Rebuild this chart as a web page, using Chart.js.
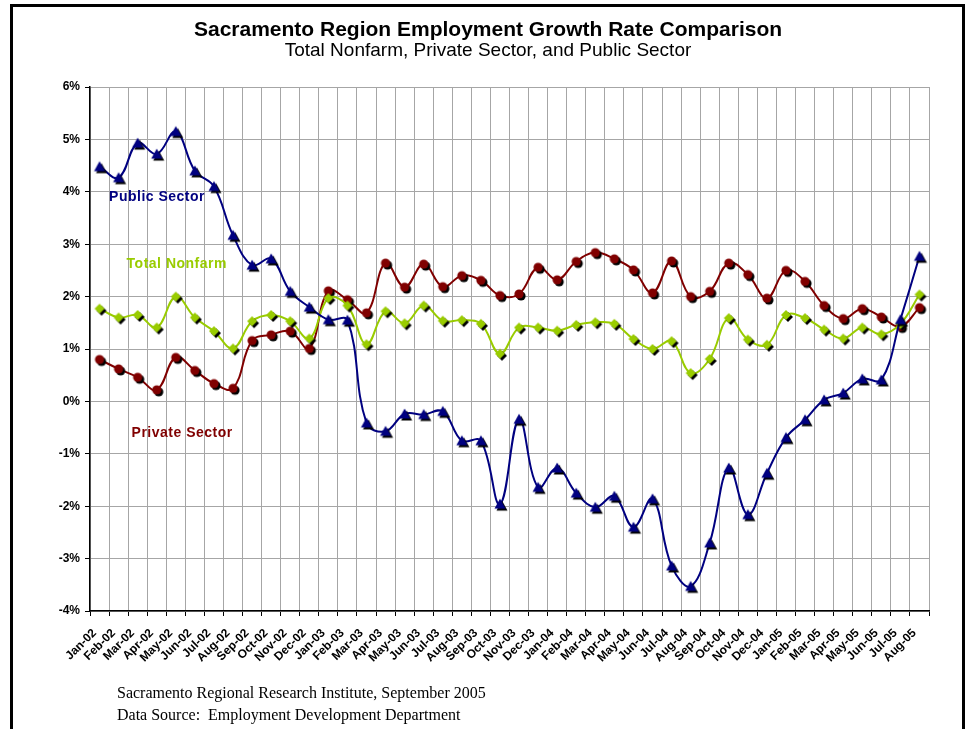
<!DOCTYPE html>
<html>
<head>
<meta charset="utf-8">
<script src="https://cdn.jsdelivr.net/npm/chart.js@4.4.1/dist/chart.umd.min.js"></script>
<style>
  html, body { margin: 0; padding: 0; background: #fff; }
  #wrap { width: 966px; height: 729px; position: relative; }
</style>
</head>
<body>
<div id="wrap"><canvas id="growthChart"></canvas></div>
<script>
// months Jan-02 .. Aug-05
const months = [
  'Jan-02', 'Feb-02', 'Mar-02', 'Apr-02', 'May-02', 'Jun-02', 'Jul-02', 'Aug-02', 'Sep-02', 'Oct-02', 'Nov-02', 'Dec-02',
  'Jan-03', 'Feb-03', 'Mar-03', 'Apr-03', 'May-03', 'Jun-03', 'Jul-03', 'Aug-03', 'Sep-03', 'Oct-03', 'Nov-03', 'Dec-03',
  'Jan-04', 'Feb-04', 'Mar-04', 'Apr-04', 'May-04', 'Jun-04', 'Jul-04', 'Aug-04', 'Sep-04', 'Oct-04', 'Nov-04', 'Dec-04',
  'Jan-05', 'Feb-05', 'Mar-05', 'Apr-05', 'May-05', 'Jun-05', 'Jul-05', 'Aug-05'
];

// growth rates, percent
const publicSector = [
  4.48, 4.27, 4.93, 4.72, 5.15, 4.40, 4.10, 3.17, 2.60, 2.72, 2.10, 1.80,
  1.56, 1.55, -0.41, -0.57, -0.24, -0.25, -0.19, -0.75, -0.75, -1.96, -0.34, -1.64,
  -1.27, -1.75, -2.02, -1.81, -2.40, -1.86, -3.14, -3.53, -2.70, -1.27, -2.16, -1.37,
  -0.69, -0.35, 0.03, 0.16, 0.43, 0.41, 1.56, 2.77
];
const totalNonfarm = [
  1.77, 1.60, 1.65, 1.41, 2.00, 1.60, 1.34, 1.01, 1.53, 1.65, 1.53, 1.20,
  1.97, 1.83, 1.09, 1.72, 1.49, 1.83, 1.54, 1.55, 1.48, 0.91, 1.41, 1.41,
  1.35, 1.46, 1.51, 1.48, 1.19, 1.00, 1.15, 0.54, 0.81, 1.59, 1.18, 1.08,
  1.65, 1.59, 1.37, 1.20, 1.41, 1.28, 1.48, 2.04
];
const privateSector = [
  0.80, 0.62, 0.46, 0.22, 0.84, 0.59, 0.34, 0.25, 1.16, 1.27, 1.34, 1.01,
  2.11, 1.94, 1.69, 2.64, 2.18, 2.62, 2.19, 2.40, 2.31, 2.02, 2.05, 2.56,
  2.32, 2.67, 2.84, 2.72, 2.51, 2.07, 2.68, 2.00, 2.10, 2.64, 2.42, 1.97,
  2.50, 2.29, 1.83, 1.58, 1.77, 1.61, 1.43, 1.79
];

const yTicks = [-4, -3, -2, -1, 0, 1, 2, 3, 4, 5, 6];

// in-chart series labels: [text, colour, x (month index), y (percent)]
const seriesNotes = [
  ['Public Sector', '#000080', 0.50, 3.82],
  ['Total Nonfarm', '#99CC00', 1.42, 2.55],
  ['Private Sector', '#800000', 1.68, -0.67]
];

const NAVY = '#000080';
const LIME = '#99CC00';
const MAROON = '#800000';

// markers with a black drop shadow, like the old Excel chart
function marker(kind, color) {
  const c = document.createElement('canvas');
  c.width = 20; c.height = 20;
  const g = c.getContext('2d');
  const shape = (dx, fill) => {
    g.fillStyle = fill;
    g.beginPath();
    const cx = 10 + dx, cy = 10 + dx;
    if (kind === 'tri') {
      g.moveTo(cx, cy - 5.5);
      g.lineTo(cx + 5.5, cy + 4.5);
      g.lineTo(cx - 5.5, cy + 4.5);
      g.closePath();
    } else if (kind === 'dia') {
      g.moveTo(cx, cy - 5);
      g.lineTo(cx + 5, cy);
      g.lineTo(cx, cy + 5);
      g.lineTo(cx - 5, cy);
      g.closePath();
    } else {
      g.arc(cx, cy, 4.6, 0, Math.PI * 2);
    }
    g.fill();
  };
  shape(2, '#000');
  shape(0, color);
  return c;
}

const decor = {
  id: 'decor',
  afterDraw(chart) {
    const ctx = chart.ctx;
    const xs = chart.scales.x, ys = chart.scales.y;
    ctx.save();
    // frame
    ctx.strokeStyle = '#000';
    ctx.lineWidth = 3;
    ctx.strokeRect(11.5, 5.5, 952, 760);

    ctx.fillStyle = '#000';
    ctx.textAlign = 'center';
    ctx.textBaseline = 'alphabetic';
    ctx.font = 'bold 21px "Liberation Sans", Arial, sans-serif';
    ctx.fillText('Sacramento Region Employment Growth Rate Comparison', 488, 36);
    ctx.font = '19px "Liberation Sans", Arial, sans-serif';
    ctx.fillText('Total Nonfarm, Private Sector, and Public Sector', 488, 56);

    ctx.textAlign = 'left';
    ctx.font = 'bold 14px "Liberation Sans", Arial, sans-serif';
    ctx.letterSpacing = '0.5px';
    seriesNotes.forEach(([text, color, xi, yv]) => {
      ctx.fillStyle = color;
      ctx.fillText(text, xs.getPixelForValue(xi), ys.getPixelForValue(yv));
    });
    ctx.letterSpacing = '0px';

    ctx.fillStyle = '#000';
    ctx.font = '16px "Liberation Serif", "Times New Roman", serif';
    ctx.fillText('Sacramento Regional Research Institute, September 2005', 117, 698);
    ctx.fillText('Data Source:  Employment Development Department', 117, 720);
    ctx.restore();
  }
};

const lineSet = (label, data, color, kind) => ({
  label,
  data,
  borderColor: color,
  borderWidth: 2,
  tension: 0.4,
  pointStyle: marker(kind, color),
  pointRadius: 5,
  fill: false
});

new Chart(document.getElementById('growthChart').getContext('2d'), {
  type: 'line',
  data: {
    labels: months,
    datasets: [
      lineSet('Public Sector', publicSector, NAVY, 'tri'),
      lineSet('Total Nonfarm', totalNonfarm, LIME, 'dia'),
      lineSet('Private Sector', privateSector, MAROON, 'dot')
    ]
  },
  options: {
    responsive: true,
    maintainAspectRatio: false,
    animation: false,
    events: [],
    layout: { padding: { left: 10, top: 87, right: 37, bottom: 0 } },
    plugins: { legend: { display: false }, tooltip: { enabled: false }, title: { display: false } },
    scales: {
      x: {
        type: 'category',
        offset: true,
        grid: { offset: true, color: '#a6a6a6', lineWidth: 1, tickLength: 5, tickColor: '#000' },
        border: { color: '#000', width: 1.5 },
        ticks: {
          autoSkip: false,
          minRotation: 45,
          maxRotation: 45,
          padding: 10,
          labelOffset: -5,
          color: '#000',
          font: { family: '"Liberation Sans", Arial, sans-serif', size: 12, weight: 'bold' }
        },
        afterFit: (s) => { s.height = 118; }
      },
      y: {
        min: -4,
        max: 6,
        afterBuildTicks: (s) => { s.ticks = yTicks.map(v => ({ value: v })); },
        grid: { color: '#a6a6a6', lineWidth: 1, tickLength: 5, tickColor: '#000' },
        border: { color: '#000', width: 1.5 },
        ticks: {
          padding: 5,
          color: '#000',
          font: { family: '"Liberation Sans", Arial, sans-serif', size: 12, weight: 'bold' },
          callback: (v) => v + '%'
        },
        afterFit: (s) => { s.width = 80; }
      }
    }
  },
  plugins: [decor]
});
</script>
</body>
</html>
